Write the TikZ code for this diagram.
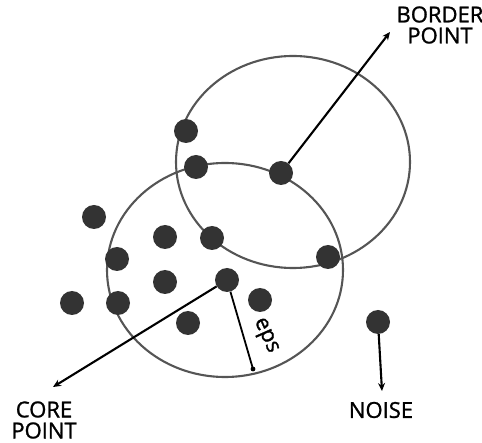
\documentclass[tikz,border=0pt]{standalone}
\usepackage{fontspec}
\setmainfont{Open Sans}
\newfontfamily\lblfont{Open Sans}[FakeBold=1.2]
\usetikzlibrary{arrows.meta}
\definecolor{dotgray}{HTML}{333333}
\definecolor{ringgray}{HTML}{555555}
\begin{document}
\begin{tikzpicture}[x=1pt,y=-1pt,
  pt/.style={circle,fill=dotgray,inner sep=0pt,minimum size=24pt},
  ring/.style={draw=ringgray,line width=2.1pt},
  ptr/.style={draw=black,line width=2.1pt,-{Stealth[length=8pt,width=7pt]}},
  lbl/.style={font=\lblfont\fontsize{22}{21}\selectfont,align=center,inner sep=0pt}]
\useasboundingbox (0,0) rectangle (482,443);
% neighbourhoods
\draw[ring] (293,162) ellipse [x radius=117, y radius=106];
\draw[ring] (225,270) ellipse [x radius=118, y radius=107];
% points
\node[pt] (p1) at (186,131) {};
\node[pt] (p2) at (196,167) {};
\node[pt] (bp) at (281,173) {};
\node[pt] (p4) at (94,217) {};
\node[pt] (p5) at (165,237) {};
\node[pt] (p6) at (212,238) {};
\node[pt] (p7) at (117,259) {};
\node[pt] (p8) at (328,257) {};
\node[pt] (p9) at (165,282) {};
\node[pt] (core) at (227,280) {};
\node[pt] (p11) at (72,303) {};
\node[pt] (p12) at (118,303) {};
\node[pt] (p13) at (260,300) {};
\node[pt] (p14) at (188,323) {};
\node[pt] (noise) at (378,322) {};
% labels
\node[lbl] (lborder) at (440,25) {BORDER\\POINT};
\node[lbl] (lcore) at (44,420) {CORE\\POINT};
\node[lbl] (lnoise) at (381,410) {NOISE};
% connectors
\coordinate (btip) at (390,32);
\coordinate (ctip) at (53,387);
\coordinate (ntip) at (382,391);
\coordinate (etip) at (253,369);
\draw[ptr] (bp) -- (btip);
\draw[ptr] (core) -- (ctip);
\draw[ptr] (noise) -- (ntip);
\draw[line width=1.8pt] (core) -- (etip);
\fill (etip) circle (2.4pt);
\node[font=\lblfont\fontsize{22}{22}\selectfont,rotate=-66,inner sep=0pt] (leps) at (265,336) {eps};
\end{tikzpicture}
\end{document}
